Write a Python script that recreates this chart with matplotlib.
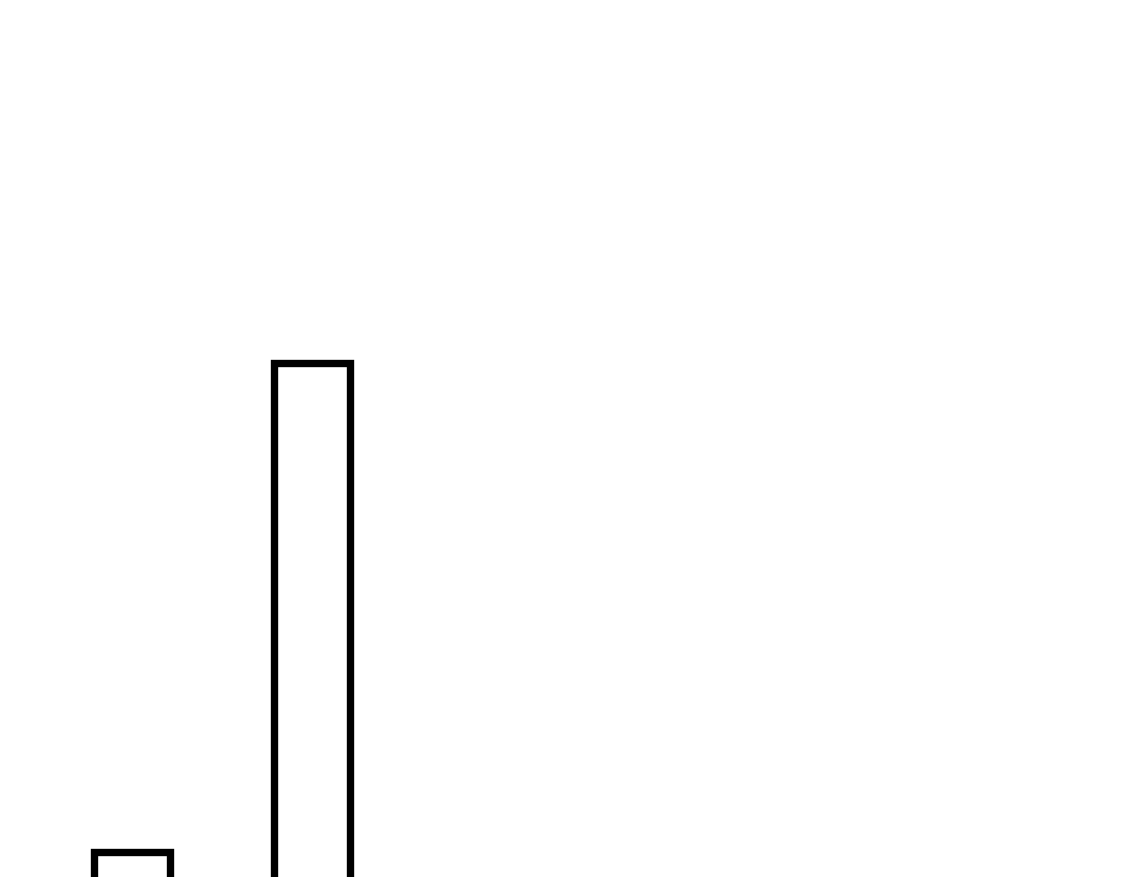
import matplotlib
matplotlib.use("Agg")
import matplotlib.pyplot as plt

categories = ["A", "B"]
values = [22.3, 66.8]

fig = plt.figure(figsize=(11.25, 8.78), dpi=100)
ax = fig.add_axes([0, 0, 1, 1])
x = list(range(len(categories)))
ax.bar(x, values, width=0.42, color="white", edgecolor="black",
       linewidth=5.3, joinstyle="miter")
ax.set_xlim(-0.733, 5.517)
ax.set_ylim(20, 100)
ax.axis("off")
fig.savefig("out.png", dpi=100, facecolor="white")
